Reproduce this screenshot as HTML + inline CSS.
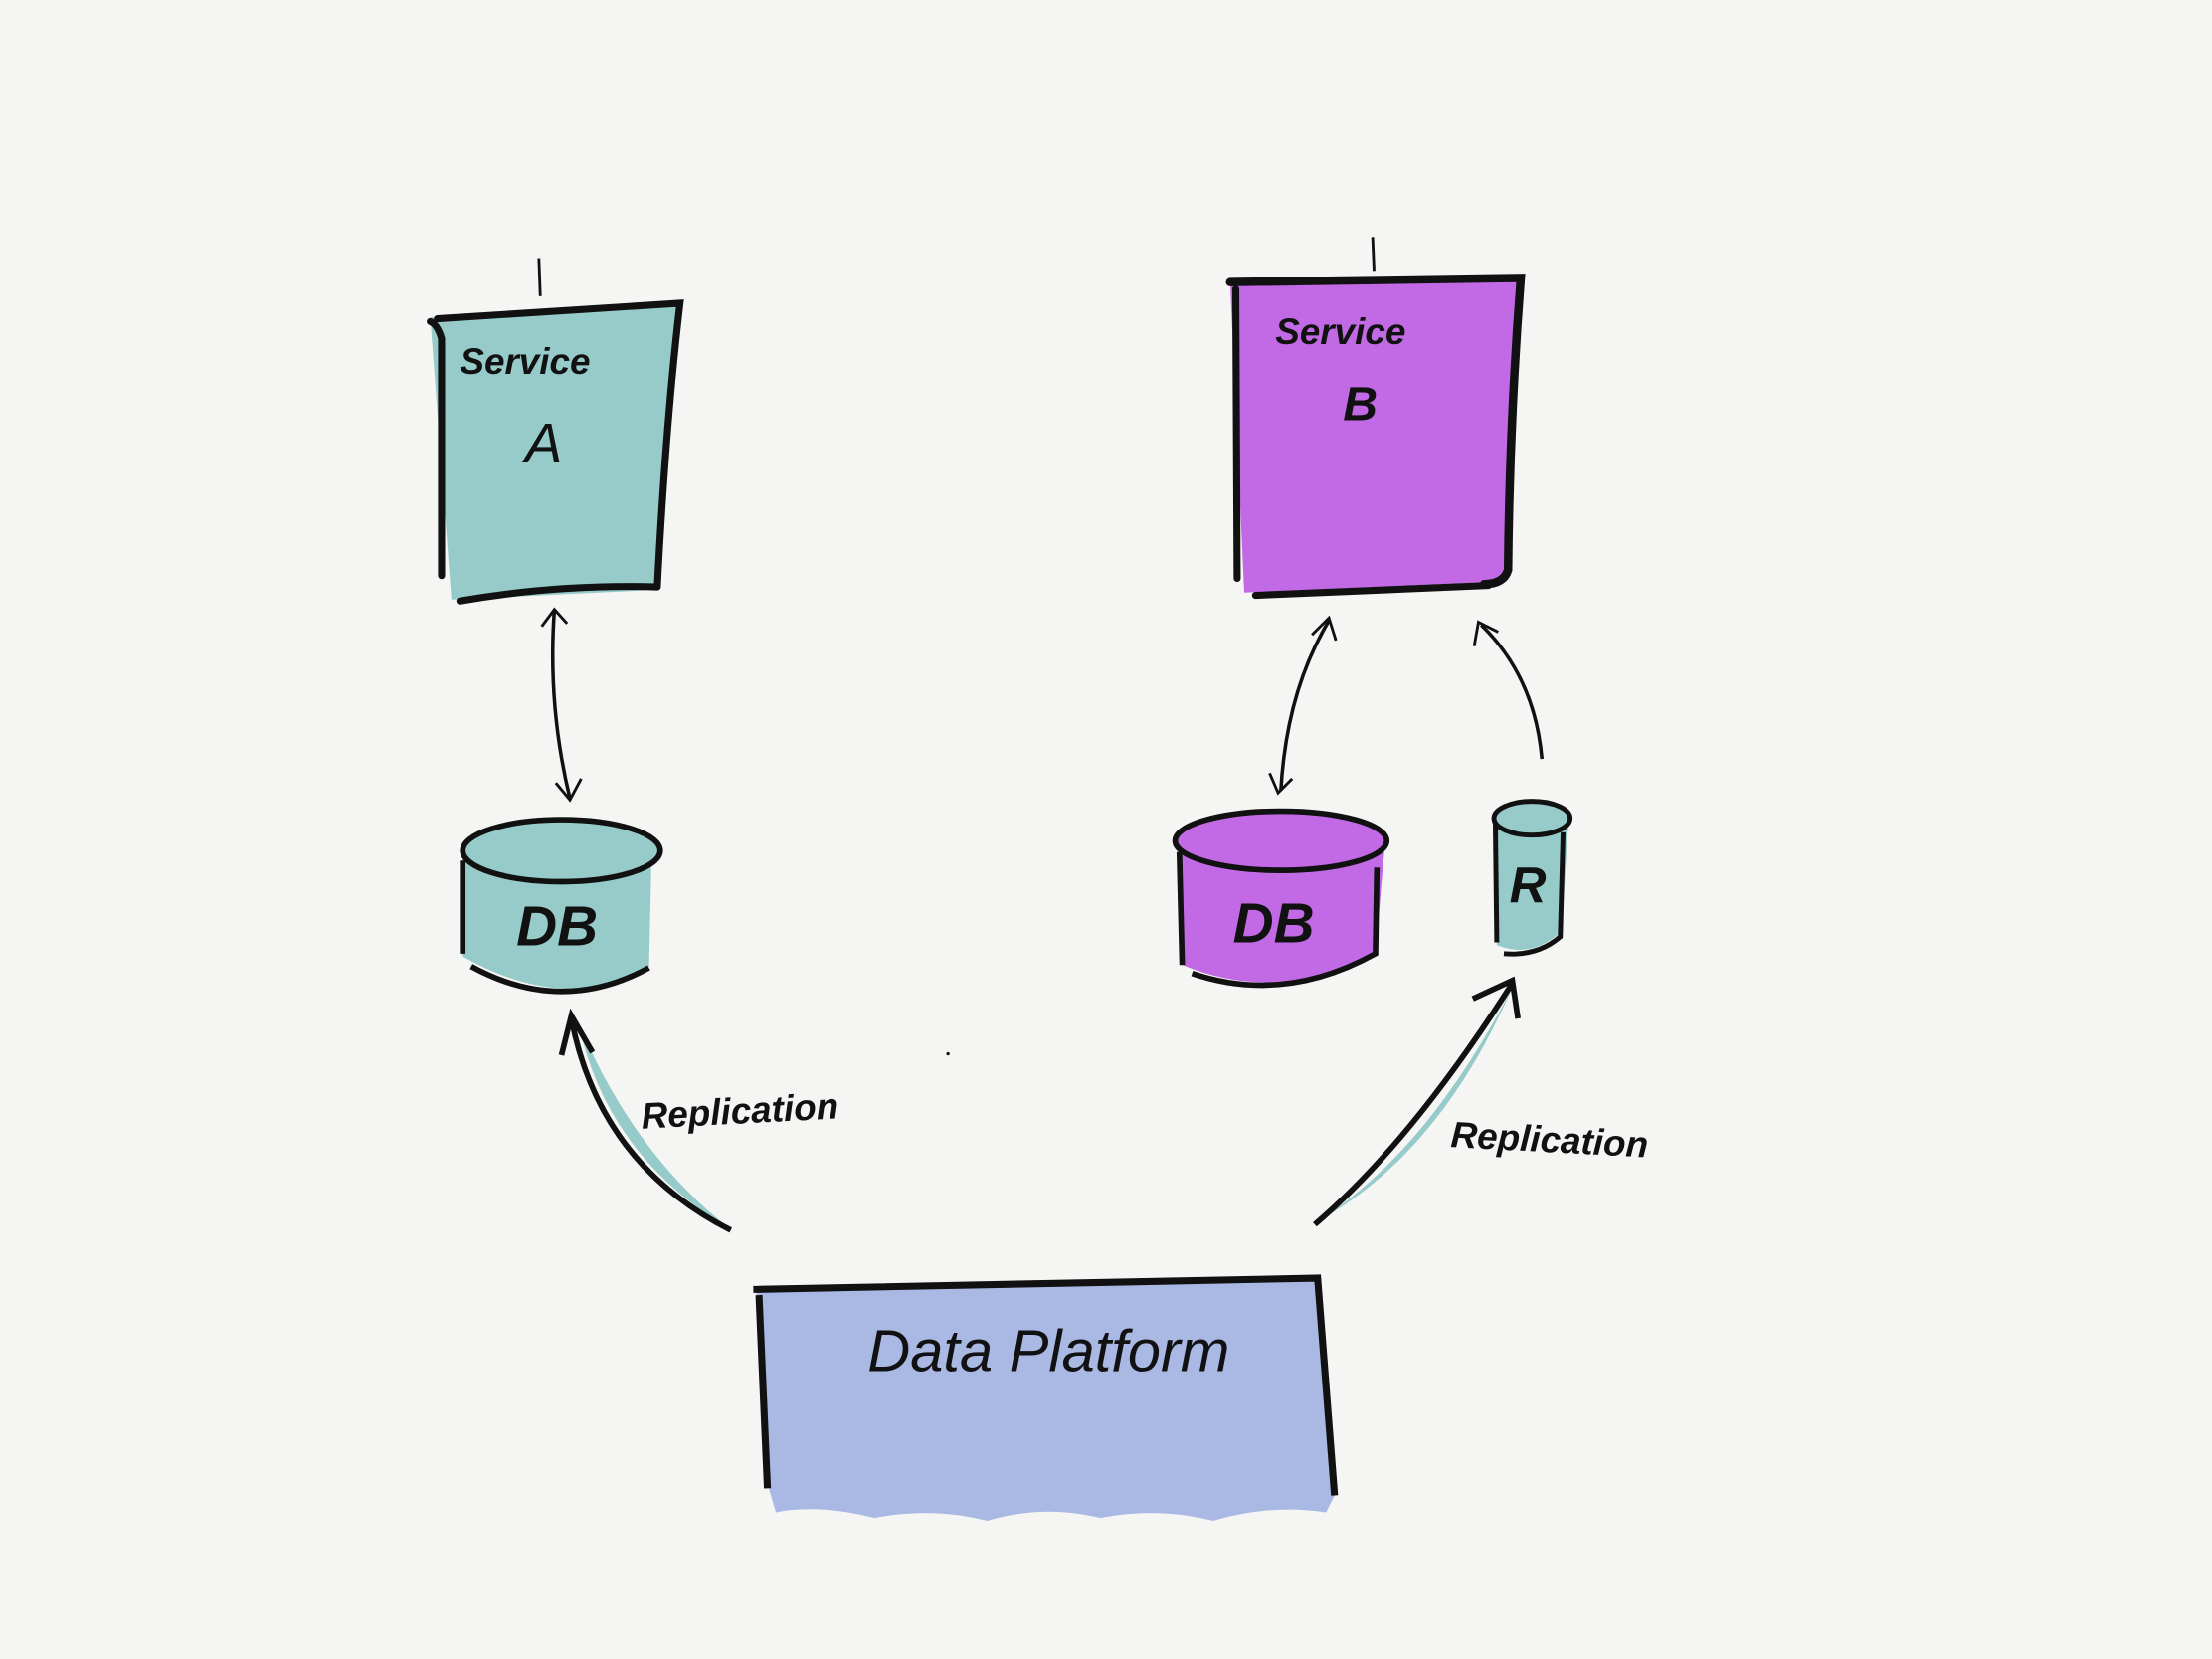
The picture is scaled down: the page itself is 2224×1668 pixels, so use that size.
<!DOCTYPE html>
<html><head><meta charset="utf-8"><style>
html,body{margin:0;padding:0;background:#f5f5f4;}
svg{display:block;}
text{font-family:"Liberation Sans",sans-serif;fill:#111;}
</style></head><body>
<svg width="2224" height="1668" viewBox="0 0 1568 1176" xmlns="http://www.w3.org/2000/svg">
<rect width="1568" height="1176" fill="#f5f5f4"/>
<!-- Service A -->
<line x1="382" y1="183" x2="383" y2="210" stroke="#111" stroke-width="2"/>
<path d="M305,225 L482,215 L466,418 L320,425 Z" fill="#96cbc9"/>
<path d="M305,228 Q310,230 313,240 L313,408" fill="none" stroke="#111" stroke-width="5" stroke-linecap="round"/>
<path d="M310,226 L482,215 Q472,300 466,415" fill="none" stroke="#111" stroke-width="5" stroke-linecap="round"/>
<path d="M326,426 Q395,414 466,416" fill="none" stroke="#111" stroke-width="5" stroke-linecap="round"/>
<text x="326" y="265" font-size="26" font-style="italic" font-weight="bold">Service</text>
<text x="372" y="328" font-size="40" font-style="italic">A</text>
<!-- Service B -->
<line x1="973" y1="168" x2="974" y2="192" stroke="#111" stroke-width="2"/>
<path d="M872,200 L1078,197 L1068,412 L882,420 Z" fill="#c26ae6"/>
<path d="M876,205 L877,410" fill="none" stroke="#111" stroke-width="5" stroke-linecap="round"/>
<path d="M872,200 L1078,197 Q1070,300 1069,404 Q1066,414 1052,414" fill="none" stroke="#111" stroke-width="6" stroke-linecap="round"/>
<path d="M890,422 Q980,418 1055,415" fill="none" stroke="#111" stroke-width="5" stroke-linecap="round"/>
<text x="904" y="244" font-size="26" font-style="italic" font-weight="bold">Service</text>
<text x="952" y="298" font-size="34" font-style="italic" font-weight="bold">B</text>
<!-- Arrow A <-> DB -->
<path d="M393,432 Q388,500 404,566" fill="none" stroke="#111" stroke-width="2.5"/>
<path d="M384,444 L393,432 L402,442" fill="none" stroke="#111" stroke-width="2"/>
<path d="M394,555 L404,567 L412,552" fill="none" stroke="#111" stroke-width="2"/>
<!-- DB A -->
<path d="M328,603 L328,678 Q398,718 460,688 L462,600 Z" fill="#96cbc9"/>
<ellipse cx="398" cy="603" rx="70" ry="22" fill="#96cbc9" stroke="#111" stroke-width="4"/>
<path d="M328,610 L328,676" stroke="#111" stroke-width="4" fill="none"/>
<path d="M334,685 Q398,720 460,686" stroke="#111" stroke-width="4" fill="none"/>
<text x="366" y="670" font-size="40" font-weight="bold" font-style="italic">DB</text>
<!-- Arrows B -->
<path d="M908,560 Q912,490 942,440" fill="none" stroke="#111" stroke-width="2.5"/>
<path d="M930,450 L942,438 L947,454" fill="none" stroke="#111" stroke-width="2"/>
<path d="M900,548 L906,562 L916,552" fill="none" stroke="#111" stroke-width="2"/>
<path d="M1093,538 Q1088,480 1050,443" fill="none" stroke="#111" stroke-width="2.5"/>
<path d="M1045,458 L1048,441 L1062,448" fill="none" stroke="#111" stroke-width="2"/>
<!-- DB B -->
<path d="M835,597 L838,684 Q905,712 975,676 L982,595 Z" fill="#c26ae6"/>
<ellipse cx="908" cy="596" rx="75" ry="21" fill="#c26ae6" stroke="#111" stroke-width="4"/>
<path d="M836,604 L838,684" stroke="#111" stroke-width="4" fill="none"/>
<path d="M845,690 Q910,712 975,676 L976,615" stroke="#111" stroke-width="4" fill="none"/>
<text x="874" y="668" font-size="40" font-weight="bold" font-style="italic">DB</text>
<!-- R -->
<path d="M1060,580 L1061,670 Q1086,680 1107,660 L1112,580 Z" fill="#96cbc9"/>
<ellipse cx="1086" cy="580" rx="27" ry="12" fill="#96cbc9" stroke="#111" stroke-width="3.5"/>
<path d="M1060,584 L1061,668 M1066,676 Q1090,678 1106,664 L1108,590" stroke="#111" stroke-width="3.5" fill="none"/>
<text x="1070" y="640" font-size="36" font-weight="bold" font-style="italic">R</text>
<!-- Replication arrows -->
<path d="M520,873 Q430,820 410,725 Q450,820 520,873 Z" fill="#96cbc9"/>
<path d="M518,872 Q425,825 405,722" fill="none" stroke="#111" stroke-width="4"/>
<path d="M398,748 L405,720 L420,746" fill="none" stroke="#111" stroke-width="4"/>
<text x="455" y="800" font-size="26" font-style="italic" font-weight="bold" transform="rotate(-3 455 800)">Replication</text>
<path d="M930,868 Q1010,820 1072,700 Q1020,820 930,868 Z" fill="#96cbc9"/>
<path d="M932,868 Q1000,810 1072,697" fill="none" stroke="#111" stroke-width="4"/>
<path d="M1044,708 L1072,695 L1076,722" fill="none" stroke="#111" stroke-width="4"/>
<text x="1028" y="813" font-size="26" font-style="italic" font-weight="bold" transform="rotate(3 1028 813)">Replication</text>
<!-- Data Platform -->
<path d="M536,914 L934,906 L946,1060 L940,1072 Q900,1066 860,1078 Q820,1068 780,1076 Q740,1066 700,1078 Q660,1068 620,1076 Q580,1066 550,1072 L545,1055 Z" fill="#a9b9e3"/>
<path d="M534,914 L934,906 L946,1060" fill="none" stroke="#111" stroke-width="5"/>
<path d="M538,918 L544,1055" fill="none" stroke="#111" stroke-width="5"/>
<text x="615" y="972" font-size="42" font-style="italic">Data Platform</text>
<circle cx="672" cy="747" r="1.2" fill="#111"/>
</svg>
</body></html>
